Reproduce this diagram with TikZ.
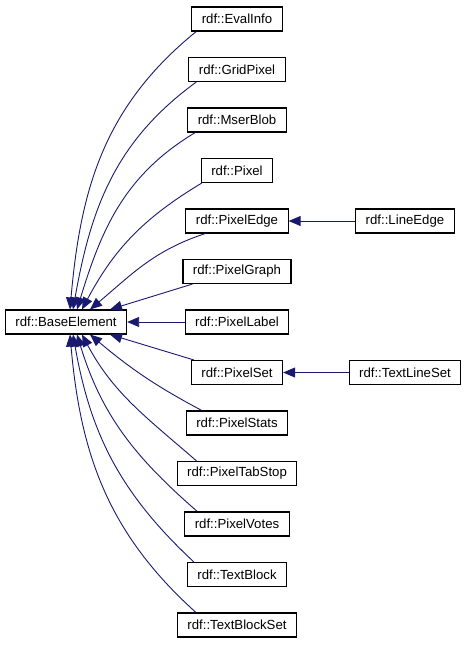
\documentclass[tikz,border=0pt]{standalone}
\usepackage{fontspec}
\setmainfont{Liberation Sans}
\usetikzlibrary{arrows.meta}
\definecolor{edgeblue}{RGB}{25,25,112}
\begin{document}
\begin{tikzpicture}[x=1pt,y=1pt,
    cls/.style={draw=black,line width=1.1pt,fill=white,minimum height=24pt,
        inner xsep=10pt,inner ysep=0pt,font=\fontsize{13.2}{15}\selectfont},
    inh/.style={draw=edgeblue,line width=0.9pt,
        -{Triangle[length=12pt,width=10pt,fill=edgeblue]}}]
    \useasboundingbox (0,0) rectangle (468,-645);
    \node[cls] (base) at (66,-322) {rdf::BaseElement};
    % derived classes, one column
    \node[cls] (evalinfo)  at (237,-19)  {rdf::EvalInfo};
    \node[cls] (gridpixel) at (237,-69.5) {rdf::GridPixel};
    \node[cls] (mserblob)  at (237,-120) {rdf::MserBlob};
    \node[cls] (pixel)     at (237,-170.5) {rdf::Pixel};
    \node[cls] (pixeledge) at (237,-221) {rdf::PixelEdge};
    \node[cls] (pixelgraph) at (237,-271.5) {rdf::PixelGraph};
    \node[cls] (pixellabel) at (237,-322) {rdf::PixelLabel};
    \node[cls] (pixelset)  at (237,-372.5) {rdf::PixelSet};
    \node[cls] (pixelstats) at (237,-423) {rdf::PixelStats};
    \node[cls] (pixeltabstop) at (237,-473.5) {rdf::PixelTabStop};
    \node[cls] (pixelvotes) at (237,-524) {rdf::PixelVotes};
    \node[cls] (textblock) at (237,-574.5) {rdf::TextBlock};
    \node[cls] (textblockset) at (237,-625) {rdf::TextBlockSet};
    % second level
    \node[cls] (lineedge)  at (405,-221) {rdf::LineEdge};
    \node[cls] (textlineset) at (405,-372.5) {rdf::TextLineSet};
    % edges above the base class
    \draw[inh] ([xshift=5pt]evalinfo.south west) to[out=219,in=85] ([xshift=4pt]base.north);
    \draw[inh] ([xshift=8pt]gridpixel.south west) to[out=216,in=80] ([xshift=7pt]base.north);
    \draw[inh] ([xshift=8pt]mserblob.south west) to[out=211,in=73] ([xshift=11pt]base.north);
    \draw[inh] ([xshift=1pt]pixel.south west) to[out=211,in=62] ([xshift=16pt]base.north);
    \draw[inh] ([xshift=20pt]pixeledge.south west) to[out=198,in=40] ([xshift=24pt]base.north);
    \draw[inh] ([xshift=10pt]pixelgraph.south west) -- ([xshift=44pt]base.north);
    \draw[inh] (pixellabel) -- (base);
    % edges below the base class
    \draw[inh] ([xshift=3pt]pixelset.north west) -- ([xshift=44pt]base.south);
    \draw[inh] ([xshift=16pt]pixelstats.north west) to[out=152,in=-40] ([xshift=24pt]base.south);
    \draw[inh] ([xshift=20pt]pixeltabstop.north west) to[out=139,in=-62] ([xshift=16pt]base.south);
    \draw[inh] ([xshift=13pt]pixelvotes.north west) to[out=139,in=-73] ([xshift=11pt]base.south);
    \draw[inh] ([xshift=7pt]textblock.north west) to[out=137,in=-80] ([xshift=7pt]base.south);
    \draw[inh] ([xshift=19pt]textblockset.north west) to[out=138,in=-85] ([xshift=4pt]base.south);
    % second level edges
    \draw[inh] (lineedge) -- (pixeledge);
    \draw[inh] (textlineset) -- (pixelset);
\end{tikzpicture}
\end{document}
